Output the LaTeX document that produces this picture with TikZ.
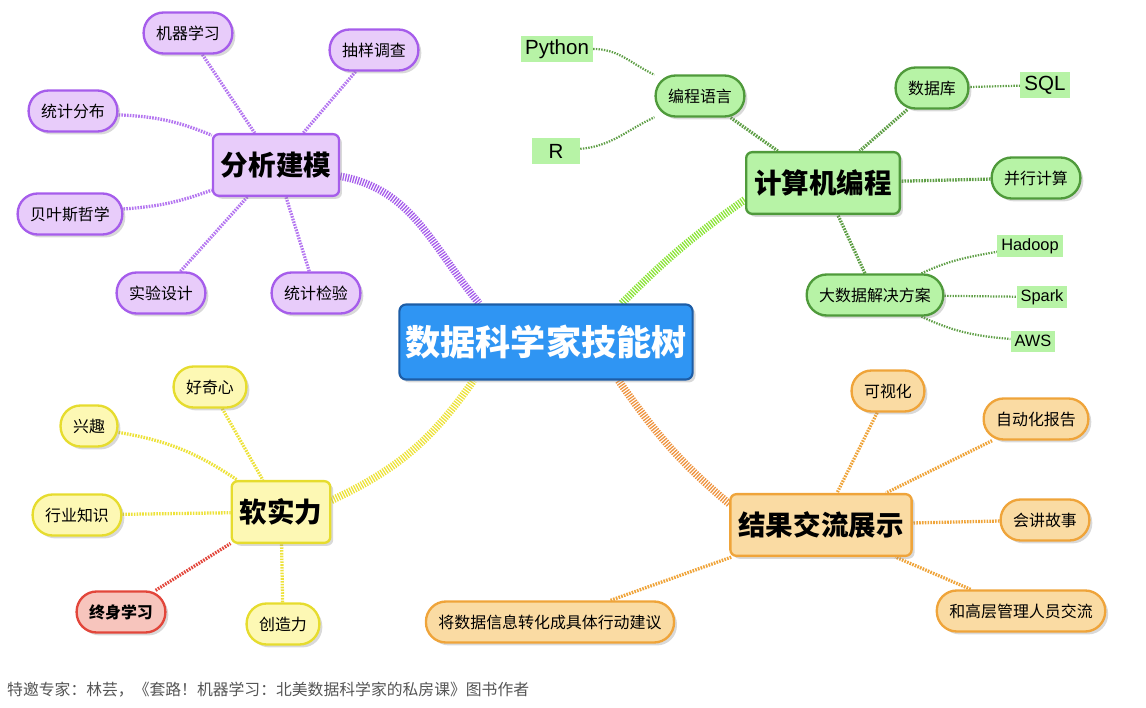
\documentclass[tikz,border=0pt]{standalone}
\usepackage{fontspec}
\setmainfont{Noto Sans CJK SC}
\newfontfamily\latinfont{Liberation Sans}
\usetikzlibrary{positioning,shadows,backgrounds}
\definecolor{sky}{HTML}{2F95F3}
\definecolor{skydeep}{HTML}{1D5DA6}
\definecolor{lilac}{HTML}{A65DEB}
\definecolor{lilacfill}{HTML}{E8CCFA}
\definecolor{lilactwig}{HTML}{B476F0}
\definecolor{leaf}{HTML}{4F9A3B}
\definecolor{leaffill}{HTML}{B7F3A6}
\definecolor{leaftwig}{HTML}{5E9E45}
\definecolor{lime}{HTML}{8BE437}
\definecolor{sun}{HTML}{E6DC2E}
\definecolor{sunfill}{HTML}{FDF8B4}
\definecolor{suntwig}{HTML}{EDE23A}
\definecolor{tang}{HTML}{EFA43A}
\definecolor{tangfill}{HTML}{FADBA3}
\definecolor{tangtrunk}{HTML}{EE9440}
\definecolor{coral}{HTML}{E2463B}
\definecolor{coralfill}{HTML}{F7C5BD}
\definecolor{capgray}{HTML}{555555}
\tikzset{
  hub/.style    ={rounded corners=0.2cm, draw=skydeep, fill=sky, line width=1.8pt, text=white,
                  font=\fontsize{30}{34}\selectfont\bfseries, minimum height=2.25cm, inner xsep=0.18cm, inner ysep=0pt,
                  drop shadow={opacity=0.3,shadow xshift=2.5pt,shadow yshift=-2.5pt}},
  topic/.style  ={rounded corners=0.18cm, draw=#1, fill=#1fill, line width=2pt,
                  font=\fontsize{23.5}{28}\selectfont\bfseries, minimum height=1.85cm, inner xsep=0.24cm, inner ysep=0pt,
                  drop shadow={opacity=0.3,shadow xshift=2.5pt,shadow yshift=-2.5pt}},
  pill/.style   ={rounded corners=0.6cm, draw=#1, fill=#1fill, line width=2pt,
                  font=\fontsize{13.6}{16}\selectfont, minimum height=1.23cm, inner xsep=0.375cm, inner ysep=0pt,
                  drop shadow={opacity=0.3,shadow xshift=2.5pt,shadow yshift=-2.5pt}},
  tag/.style    ={fill=leaffill, font=\latinfont\fontsize{#1}{#1}\selectfont, inner xsep=0.12cm, inner ysep=0pt},
  trunk/.style  ={draw=#1, line width=6.5pt, dash pattern=on 1.1pt off 1.1pt},
  twig/.style   ={draw=#1, line width=2.8pt, dash pattern=on 1.4pt off 1pt},
  sprig/.style  ={draw=#1, line width=1.9pt, dash pattern=on 1.2pt off 1.1pt},
}
\begin{document}
\begin{tikzpicture}[x=0.03cm,y=-0.03cm]
\useasboundingbox (0,0) rectangle (1146,708);

\node[hub] (root) at (546,342) {数据科学家技能树};

\node[topic=lilac] (model) at (276,165) {分析建模};
\node[pill=lilac] (ml) at (188,33) {机器学习};
\node[pill=lilac] (samp) at (374,50) {抽样调查};
\node[pill=lilac] (dist) at (73,111) {统计分布};
\node[pill=lilac] (bayes) at (70,214) {贝叶斯哲学};
\node[pill=lilac] (exp) at (161,293) {实验设计};
\node[pill=lilac] (test) at (316,293) {统计检验};

\node[topic=leaf] (prog) at (823,183) {计算机编程};
\node[pill=leaf] (lang) at (700,96) {编程语言};
\node[tag=17.5, minimum height=0.78cm] (py) at (557,49) {Python};
\node[tag=17.5, minimum height=0.78cm, minimum width=1.44cm] (rr) at (556,151) {R};
\node[pill=leaf] (db) at (932,88) {数据库};
\node[tag=17.5, minimum height=0.8cm] (sql) at (1045,85) {SQL};
\node[pill=leaf] (par) at (1036,178) {并行计算};
\node[pill=leaf] (big) at (875,295) {大数据解决方案};
\node[tag=14, minimum height=0.66cm] (hd) at (1030,246) {Hadoop};
\node[tag=14, minimum height=0.63cm] (sp) at (1042,297) {Spark};
\node[tag=14, minimum height=0.63cm] (aws) at (1033,341) {AWS};

\node[topic=tang] (res) at (821,525) {结果交流展示};
\node[pill=tang] (vis) at (888,391) {可视化};
\node[pill=tang] (auto) at (1036,419) {自动化报告};
\node[pill=tang] (story) at (1045,520) {会讲故事};
\node[pill=tang] (boss) at (1021,611) {和高层管理人员交流};
\node[pill=tang] (act) at (550,622) {将数据信息转化成具体行动建议};

\node[topic=sun] (soft) at (281,512) {软实力};
\node[pill=sun] (cur) at (210,387) {好奇心};
\node[pill=sun] (int) at (89,426) {兴趣};
\node[pill=sun] (ind) at (77,515) {行业知识};
\node[pill=coral] (life) at (121,612) {\bfseries 终身学习};
\node[pill=sun] (cre) at (283,624) {创造力};

\node[anchor=west, text=capgray, font=\fontsize{13.5}{16}\selectfont, inner sep=0pt] (note) at (7,690)
  {特邀专家：林芸，《套路！机器学习：北美数据科学家的私房课》图书作者};

\begin{scope}[on background layer]
\draw[trunk=lilac] (model.-10) to[out=-10, in=130] (root.150);
\draw[trunk=lime] (root.27) to[out=45, in=215] (prog.192);
\draw[trunk=suntwig] (soft.13) to[out=25, in=235] (root.208);
\draw[trunk=tangtrunk] (root.-28) to[out=-55, in=140] (res.167);

\draw[twig=lilactwig] (ml) -- (model);
\draw[twig=lilactwig] (samp) -- (model);
\draw[twig=lilactwig] (dist) to[bend left=10] (model);
\draw[twig=lilactwig] (bayes) to[bend right=8] (model);
\draw[twig=lilactwig] (exp) -- (model);
\draw[twig=lilactwig] (test) -- (model);

\draw[twig=leaftwig] (lang) -- (prog);
\draw[twig=leaftwig] (db) -- (prog);
\draw[twig=leaftwig] (par) -- (prog);
\draw[twig=leaftwig] (big) -- (prog);
\draw[sprig=leaftwig] (py) to[out=0, in=155] (lang);
\draw[sprig=leaftwig] (rr) to[out=5, in=205] (lang);
\draw[sprig=leaftwig] (sql) -- (db);
\draw[sprig=leaftwig] (big) to[out=25, in=190] (hd);
\draw[sprig=leaftwig] (big) -- (sp);
\draw[sprig=leaftwig] (big) to[out=-25, in=175] (aws);

\draw[twig=tang] (vis) -- (res);
\draw[twig=tang] (auto) -- (res);
\draw[twig=tang] (story) -- (res);
\draw[twig=tang] (boss) -- (res);
\draw[twig=tang] (act) -- (res);

\draw[twig=suntwig] (cur) -- (soft);
\draw[twig=suntwig] (int) to[bend left=12] (soft);
\draw[twig=suntwig] (ind) -- (soft);
\draw[twig=coral] (life) -- (soft);
\draw[twig=suntwig] (cre) -- (soft);
\end{scope}
\end{tikzpicture}
\end{document}
